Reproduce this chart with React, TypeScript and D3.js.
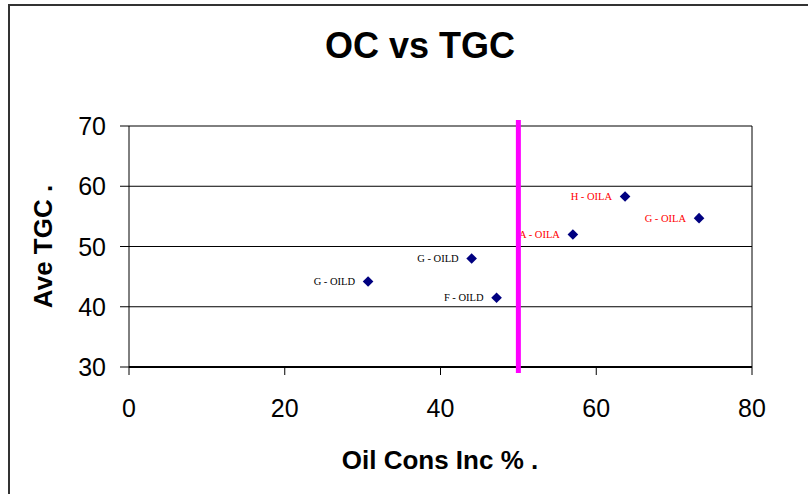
import React from "react";
import * as d3 from "d3";

const labels = ["G - OILD", "G - OILD", "F - OILD", "A - OILA", "H - OILA", "G - OILA"];
const oilCons = [30.7, 44.0, 47.2, 57.0, 63.7, 73.2];
const aveTGC = [44.2, 48.0, 41.5, 52.0, 58.3, 54.7];
const groups = ["D", "D", "D", "A", "A", "A"];
const xTicks = [0, 20, 40, 60, 80];
const yTicks = [30, 40, 50, 60, 70];
const threshold = 50;
const thresholdRange = [29, 71];

const W = 808, H = 494;
const left = 129, right = 752, top = 126, bottom = 367;

export default function App() {
  const x = d3.scaleLinear().domain([0, 80]).range([left, right]);
  const y = d3.scaleLinear().domain([30, 70]).range([bottom, top]);
  const diamond = d3.symbol().type(d3.symbolDiamond2 ?? d3.symbolDiamond).size(72)();
  const sans = "Liberation Sans, Arial, sans-serif";
  return (
    <svg width={W} height={H} style={{ position: "absolute", left: 0, top: 0, background: "#fff" }}>
      <rect x={9} y={5} width={W + 20} height={H + 20} fill="#fff" stroke="#333" strokeWidth={2} />
      <text x={420} y={58} textAnchor="middle" fontFamily={sans} fontWeight="bold" fontSize={36}>OC vs TGC</text>
      {yTicks.map((t) => (
        <g key={"y" + t}>
          {t > 30 && <line x1={left} x2={right} y1={y(t)} y2={y(t)} stroke="#000" strokeWidth={1} />}
          <line x1={left - 9} x2={left} y1={y(t)} y2={y(t)} stroke="#000" strokeWidth={1} />
          <text x={106} y={y(t)} dy="0.36em" textAnchor="end" fontFamily={sans} fontSize={25}>{t}</text>
        </g>
      ))}
      <line x1={left} x2={left} y1={top} y2={bottom} stroke="#000" strokeWidth={1} />
      <line x1={right} x2={right} y1={top} y2={bottom} stroke="#000" strokeWidth={1} />
      {xTicks.map((t) => (
        <g key={"x" + t}>
          <line x1={x(t)} x2={x(t)} y1={bottom} y2={bottom + 8} stroke="#000" strokeWidth={1} />
          <text x={x(t)} y={408} dy="0.36em" textAnchor="middle" fontFamily={sans} fontSize={25}>{t}</text>
        </g>
      ))}
      <line x1={left} x2={right} y1={bottom} y2={bottom} stroke="#000" strokeWidth={2} />
      {oilCons.map((v, i) => (
        <g key={"p" + i}>
          <path d={diamond} transform={`translate(${x(v)},${y(aveTGC[i])})`} fill="#000080" />
          <text x={x(v) - 13} y={y(aveTGC[i])} dy="0.35em" textAnchor="end"
            fontFamily="Liberation Serif, Times New Roman, serif" fontSize={10.5}
            fill={groups[i] === "A" ? "#ff0000" : "#000"}>{labels[i]}</text>
        </g>
      ))}
      <line x1={x(threshold)} x2={x(threshold)} y1={y(thresholdRange[1])} y2={y(thresholdRange[0])} stroke="#ff00ff" strokeWidth={5} />
      <text transform={`translate(52,${y(50)}) rotate(-90)`} textAnchor="middle" fontFamily={sans} fontWeight="bold" fontSize={26}>Ave TGC .</text>
      <text x={440} y={469} textAnchor="middle" fontFamily={sans} fontWeight="bold" fontSize={26}>Oil Cons Inc % .</text>
    </svg>
  );
}
